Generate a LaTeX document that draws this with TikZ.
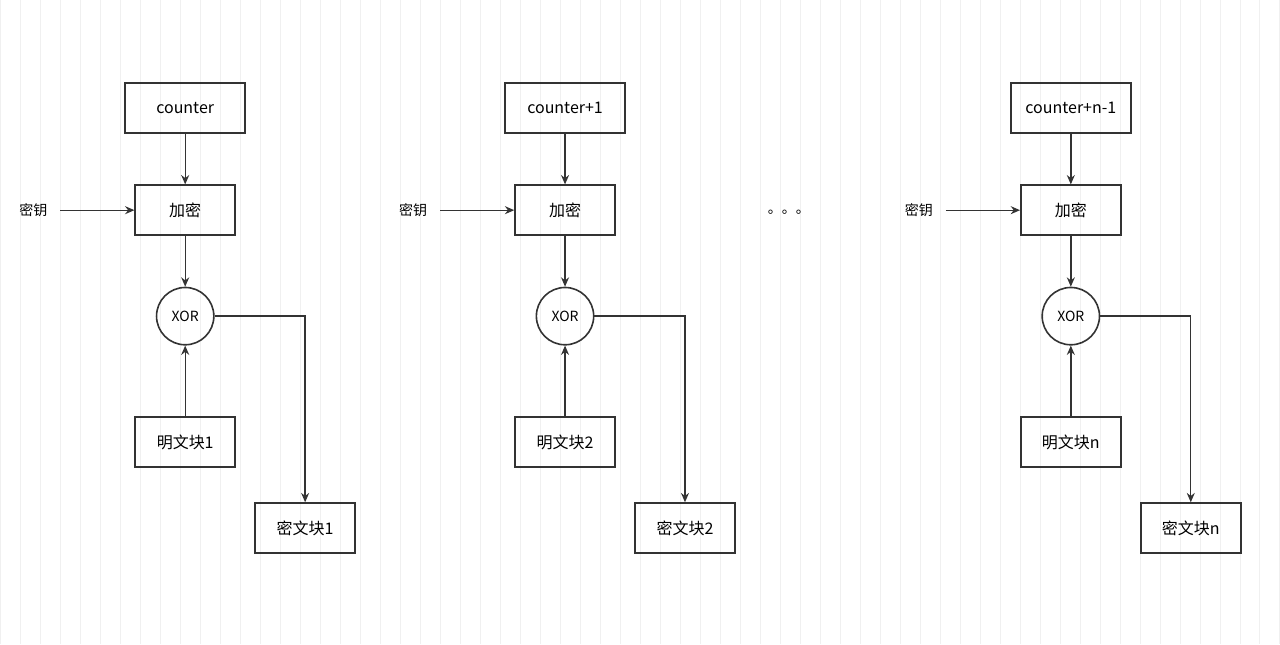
\documentclass[tikz,border=0pt]{standalone}
\usepackage{fontspec}
\setmainfont{Noto Sans CJK SC}
\usetikzlibrary{arrows.meta}
\begin{document}
\begin{tikzpicture}[x=0.75pt,y=-0.75pt,
  box/.style={draw=black!80,line width=1.2pt,minimum width=75pt,minimum height=37.5pt,inner sep=0pt,font=\fontsize{12}{12}\selectfont},
  wbox/.style={box,minimum width=90pt},
  xor/.style={draw=black!80,line width=1.2pt,circle,minimum size=43pt,inner sep=0pt,font=\fontsize{10.5}{10.5}\selectfont},
  lab/.style={font=\fontsize{10.5}{10.5}\selectfont},
  arr/.style={draw=black!80,line width=1pt,-{Stealth[length=7pt,width=6pt]}}]
\fill[white] (0,0) rectangle (1280,644);
\draw[black!6,line width=0.4pt] (0,0) grid[step=20] (1280,644);
\useasboundingbox (0,0) rectangle (1280,644);
\foreach \i/\dx/\c/\n in {1/0/counter/1,2/380/counter+1/2,3/886/counter+n-1/n}{
  \begin{scope}[xshift=\dx*0.75pt]
  \node[wbox] (c\i) at (185,108) {\c};
  \node[box] (e\i) at (185,210) {加密};
  \node[xor] (x\i) at (185,316) {XOR};
  \node[box] (p\i) at (185,442) {明文块\n};
  \node[box] (q\i) at (305,528) {密文块\n};
  \node[lab] (k\i) at (33,210) {密钥};
  \coordinate (ks\i) at (60,210);
  \coordinate (b\i) at (305,316);
  \end{scope}
  \draw[arr] (c\i) -- (e\i);
  \draw[arr] (e\i) -- (x\i);
  \draw[arr] (p\i) -- (x\i);
  \draw[arr] (ks\i) -- (e\i);
  \draw[arr] (x\i.east) -- (b\i) -- (q\i);
}
\node[lab] (dots) at (789,212) {。。。};
\end{tikzpicture}
\end{document}
